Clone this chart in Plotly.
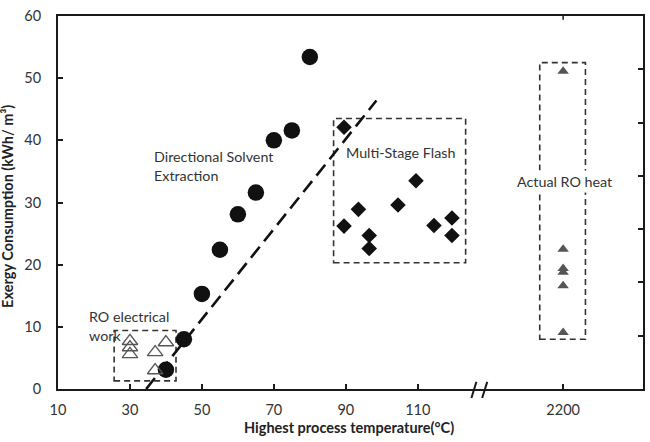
import plotly.graph_objects as go

# ---- data ----
dse_temp = [40, 45, 50, 55, 60, 65, 70, 75, 80]
dse_exergy = [3.1, 8.0, 15.3, 22.4, 28.1, 31.6, 40.0, 41.6, 53.4]

ro_elec_temp = [30, 30, 30, 37, 40, 37]
ro_elec_exergy = [7.7, 6.7, 5.6, 5.9, 7.5, 3.0]

msf_temp = [89.5, 109.5, 93.5, 104.5, 89.5, 96.5, 96.5, 114.5, 119.5, 119.5]
msf_exergy = [42.1, 33.5, 28.9, 29.6, 26.2, 24.7, 22.6, 26.3, 27.5, 24.7]

ro_heat_temp = [2200, 2200, 2200, 2200, 2200, 2200]
ro_heat_exergy = [51.1, 22.5, 19.4, 18.8, 16.6, 9.1]

trend_temp = [34.5, 98.5]
trend_exergy = [0.0, 46.4]

tick_values = [10, 30, 50, 70, 90, 110, 2200]
tick_labels = ["10", "30", "50", "70", "90", "110", "2200"]

# broken x axis: temperatures beyond the break are drawn at a fixed slot
BREAK_SLOT = 150.4
def xpos(t):
    return BREAK_SLOT if t > 500 else t

FONT = "Lato, 'Liberation Sans', sans-serif"
AX = "#1a1a1a"

fig = go.Figure()

fig.add_trace(go.Scatter(x=[xpos(t) for t in trend_temp], y=trend_exergy, mode="lines",
                         line=dict(color="#111", width=2.6, dash="14px,7px"),
                         showlegend=False, hoverinfo="skip"))
fig.add_trace(go.Scatter(x=[xpos(t) for t in dse_temp], y=dse_exergy, mode="markers",
                         marker=dict(symbol="circle", size=16.5, color="#111"),
                         showlegend=False))
fig.add_trace(go.Scatter(x=[xpos(t) for t in ro_elec_temp], y=ro_elec_exergy, mode="markers",
                         marker=dict(symbol="triangle-up-open", size=13.5,
                                     color="#555", line=dict(width=1.3, color="#555")),
                         showlegend=False))
fig.add_trace(go.Scatter(x=[xpos(t) for t in msf_temp], y=msf_exergy, mode="markers",
                         marker=dict(symbol="diamond", size=12, color="#111"),
                         showlegend=False))
fig.add_trace(go.Scatter(x=[xpos(t) for t in ro_heat_temp], y=ro_heat_exergy, mode="markers",
                         marker=dict(symbol="triangle-up", size=10, color="#555"),
                         showlegend=False))
# right axis holder
fig.add_trace(go.Scatter(x=[None], y=[None], yaxis="y2", showlegend=False))

box_line = dict(color="#333", width=1.6, dash="6px,4px")
for x0, x1, y0, y1 in [(25.6, 42.8, 1.3, 9.4), (86.6, 123.3, 20.3, 43.5), (143.9, 156.6, 8.0, 52.5)]:
    fig.add_shape(type="rect", xref="x", yref="y", x0=x0, x1=x1, y0=y0, y1=y1,
                  line=box_line, fillcolor="rgba(0,0,0,0)", layer="below")

# axis break marks
for bx in [124.9, 127.9]:
    fig.add_shape(type="line", xref="x", yref="paper", x0=bx, x1=bx + 1.4, y0=-0.024, y1=0.019,
                  line=dict(color=AX, width=2))
# top tick at 2200
fig.add_shape(type="line", xref="x", yref="paper", x0=BREAK_SLOT, x1=BREAK_SLOT, y0=1, y1=0.99,
              line=dict(color=AX, width=1.5))

txt = dict(family=FONT, size=14.3, color="#333")
fig.add_annotation(x=36.2, y=35.9, xref="x", yref="y", text="Directional Solvent<br>Extraction",
                   showarrow=False, xanchor="left", yanchor="middle", align="left", font=txt)
fig.add_annotation(x=105.3, y=38.1, xref="x", yref="y", text="Multi-Stage Flash",
                   showarrow=False, xanchor="center", yanchor="middle", font=txt)
fig.add_annotation(x=18.0, y=10.1, xref="x", yref="y", text="RO electrical<br>work",
                   showarrow=False, xanchor="left", yanchor="middle", align="left", font=txt)
fig.add_annotation(x=150.9, y=33.4, xref="x", yref="y", text="Actual RO heat",
                   showarrow=False, xanchor="center", yanchor="middle", font=txt,
                   bgcolor="white", borderpad=2)

fig.add_annotation(x=-0.086, y=0.49, xref="paper", yref="paper", text="<b>Exergy Consumption (kWh/ m³)</b>",
                   textangle=-90, showarrow=False, xanchor="center", yanchor="middle",
                   font=dict(family=FONT, size=14.5, color="#222"))
fig.add_annotation(x=0.497, y=-0.102, xref="paper", yref="paper", text="<b>Highest process temperature(°C)</b>",
                   showarrow=False, xanchor="center", yanchor="middle",
                   font=dict(family=FONT, size=14.5, color="#222"))

fig.update_layout(
    width=650, height=442,
    margin=dict(l=58, r=7, t=10, b=53),
    paper_bgcolor="white", plot_bgcolor="white",
    xaxis=dict(range=[10, 172.6], tickvals=[xpos(v) for v in tick_values], ticktext=tick_labels,
               showgrid=False, zeroline=False, showline=True, linecolor=AX, linewidth=2,
               mirror=True, ticks="inside", ticklen=5, tickcolor=AX, tickwidth=1.5,
               ticklabelstandoff=7,
               tickfont=dict(family=FONT, size=14.5, color="#333")),
    yaxis=dict(range=[0, 60], dtick=10, showgrid=False, zeroline=False, showline=True,
               linecolor=AX, linewidth=2, ticks="inside", ticklen=5, tickcolor=AX, tickwidth=1.5,
               ticklabelstandoff=12,
               tickfont=dict(family=FONT, size=14.5, color="#333")),
    yaxis2=dict(range=[0, 7], dtick=1, overlaying="y", side="right", showgrid=False,
                zeroline=False, showline=True, linecolor=AX, linewidth=2, ticks="inside",
                ticklen=5, tickcolor=AX, tickwidth=1.5, showticklabels=False),
)

fig.write_html("out.html")
